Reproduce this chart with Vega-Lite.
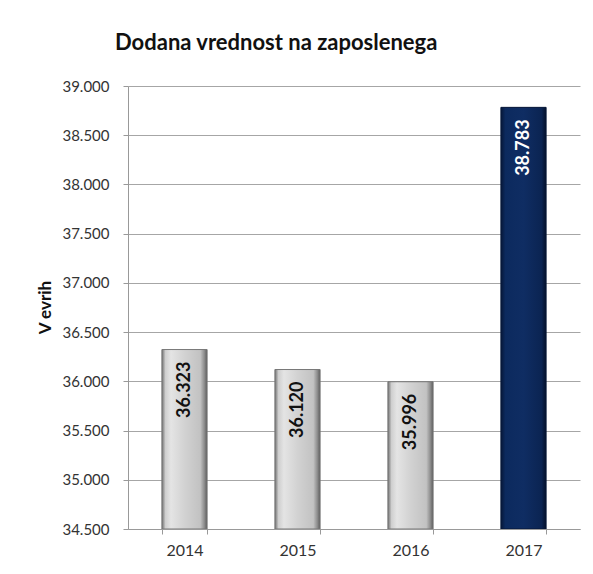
{
  "$schema": "https://vega.github.io/schema/vega-lite/v6.json",
  "width": 452,
  "height": 443,
  "autosize": {"type": "none"},
  "padding": {"left": 128, "top": 86, "right": 13, "bottom": 45},
  "config": {
    "locale": {"number": {"decimal": ",", "thousands": ".", "grouping": [3], "currency": ["", " €"]}},
    "view": {"stroke": null},
    "font": "Lato"
  },
  "title": {
    "text": "Dodana vrednost na zaposlenega",
    "font": "Lato",
    "fontSize": 22,
    "fontWeight": "bold",
    "color": "#111111",
    "anchor": "start",
    "frame": "group",
    "dx": -13,
    "offset": 24
  },
  "data": {
    "values": [
      {"leto": "2014", "vrednost": 36323},
      {"leto": "2015", "vrednost": 36120},
      {"leto": "2016", "vrednost": 35996},
      {"leto": "2017", "vrednost": 38783}
    ]
  },
  "encoding": {
    "x": {
      "field": "leto",
      "type": "ordinal",
      "title": null,
      "scale": {"paddingInner": 0.6, "paddingOuter": 0.3},
      "axis": {
        "labelAngle": 0,
        "labelFontSize": 16,
        "labelColor": "#333333",
        "labelPadding": 8,
        "tickBand": "extent",
        "tickSize": 5,
        "tickColor": "#999999",
        "domainColor": "#999999",
        "grid": false,
        "zindex": 1
      }
    },
    "y": {
      "field": "vrednost",
      "type": "quantitative",
      "title": "V evrih",
      "scale": {"domain": [34500, 39000], "zero": false, "nice": false},
      "axis": {
        "values": [34500, 35000, 35500, 36000, 36500, 37000, 37500, 38000, 38500, 39000],
        "format": ",d",
        "labelFontSize": 15,
        "labelColor": "#333333",
        "labelPadding": 14,
        "tickSize": 5,
        "tickColor": "#999999",
        "domainColor": "#999999",
        "gridColor": "#a6a6a6",
        "gridWidth": 1,
        "titleFontSize": 17,
        "titleFontWeight": "bold",
        "titleColor": "#111111",
        "titleX": -83,
        "titleY": 221,
        "titleAlign": "center",
        "titleBaseline": "middle",
        "titleAngle": -90
      }
    }
  },
  "layer": [
    {
      "transform": [{"filter": "datum.leto != '2017'"}],
      "mark": {
        "type": "bar",
        "stroke": "#777777",
        "strokeWidth": 1,
        "color": {
          "gradient": "linear",
          "x1": 0, "x2": 1, "y1": 0, "y2": 0,
          "stops": [
            {"offset": 0, "color": "#707070"},
            {"offset": 0.08, "color": "#cfcfcf"},
            {"offset": 0.2, "color": "#e4e4e4"},
            {"offset": 0.5, "color": "#d2d2d2"},
            {"offset": 0.85, "color": "#c2c2c2"},
            {"offset": 0.94, "color": "#8c8c8c"},
            {"offset": 1, "color": "#5c5c5c"}
          ]
        }
      },
      "encoding": {"y2": {"datum": 34500}}
    },
    {
      "transform": [{"filter": "datum.leto == '2017'"}],
      "mark": {
        "type": "bar",
        "stroke": "#061738",
        "strokeWidth": 1,
        "color": {
          "gradient": "linear",
          "x1": 0, "x2": 1, "y1": 0, "y2": 0,
          "stops": [
            {"offset": 0, "color": "#061738"},
            {"offset": 0.1, "color": "#0c2a5e"},
            {"offset": 0.5, "color": "#0f2d63"},
            {"offset": 0.9, "color": "#0b2452"},
            {"offset": 1, "color": "#04102a"}
          ]
        }
      },
      "encoding": {"y2": {"datum": 34500}}
    },
    {
      "mark": {
        "type": "text",
        "angle": -90,
        "align": "right",
        "baseline": "middle",
        "dx": -12,
        "fontSize": 18,
        "fontWeight": "bold"
      },
      "encoding": {
        "text": {"field": "vrednost", "type": "quantitative", "format": ",d"},
        "color": {
          "condition": {"test": "datum.leto == '2017'", "value": "#ffffff"},
          "value": "#111111"
        }
      }
    }
  ]
}
